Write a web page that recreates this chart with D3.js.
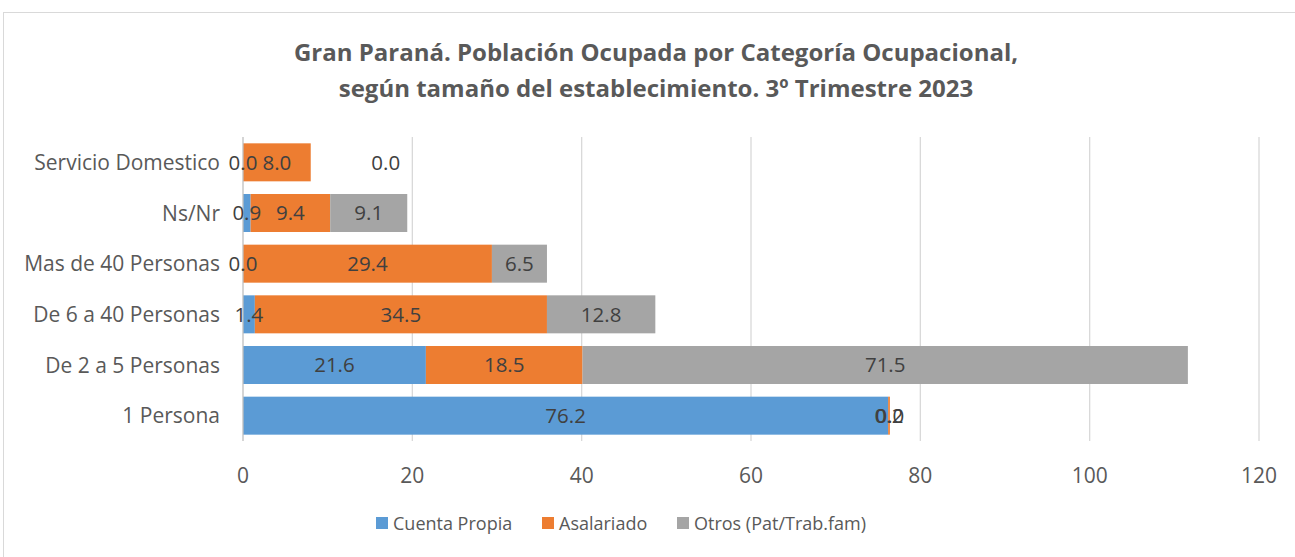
<!DOCTYPE html>
<html>
<head>
<meta charset="utf-8">
<script src="https://cdn.jsdelivr.net/npm/d3@7"></script>
<style>
  body { margin: 0; background: #fff; }
  svg { display: block; font-family: "Open Sans", sans-serif; }
</style>
</head>
<body>
<div id="chart"></div>
<script>
const categories = ["Servicio Domestico", "Ns/Nr", "Mas de 40 Personas", "De 6 a 40 Personas", "De 2 a 5 Personas", "1 Persona"];
const seriesNames = ["Cuenta Propia", "Asalariado", "Otros (Pat/Trab.fam)"];
const cuentaPropia = [0.0, 0.9, 0.0, 1.4, 21.6, 76.2];
const asalariado = [8.0, 9.4, 29.4, 34.5, 18.5, 0.2];
const otros = [0.0, 9.1, 6.5, 12.8, 71.5, 0.0];
const xTicks = [0, 20, 40, 60, 80, 100, 120];
const colors = ["#5B9BD5", "#ED7D31", "#A5A5A5"];

const width = 1295, height = 557;
const margin = { top: 137, right: 36, bottom: 116, left: 243 };

const svg = d3.select("#chart").append("svg")
    .attr("width", width).attr("height", height);

svg.append("rect").attr("x", 3.5).attr("y", 12.5)
    .attr("width", width + 10).attr("height", height)
    .attr("fill", "none").attr("stroke", "#D9D9D9");

const title = svg.append("text").attr("text-anchor", "middle")
    .attr("fill", "#595959").style("font-size", "24px").style("font-weight", "bold");
title.append("tspan").attr("x", 656).attr("y", 61).text("Gran Paraná. Población Ocupada por Categoría Ocupacional,");
title.append("tspan").attr("x", 656).attr("y", 97).text("según tamaño del establecimiento. 3º Trimestre 2023");

const x = d3.scaleLinear().domain([0, 120]).range([margin.left, width - margin.right]);
const y = d3.scaleBand().domain(categories).range([margin.top, height - margin.bottom]).paddingInner(0.25).paddingOuter(0.125);

const rows = categories.map((c, i) => ({ cat: c, v: [cuentaPropia[i], asalariado[i], otros[i]] }));
const stacked = d3.stack().keys([0, 1, 2]).value((d, k) => d.v[k])(rows);

// gridlines
svg.append("g").selectAll("line").data(xTicks.slice(1)).join("line")
    .attr("x1", d => x(d)).attr("x2", d => x(d))
    .attr("y1", margin.top).attr("y2", height - margin.bottom)
    .attr("stroke", "#D9D9D9").attr("stroke-width", 1.3);

// bars
stacked.forEach((s, k) => {
    svg.append("g").attr("fill", colors[k]).selectAll("rect").data(s).join("rect")
        .attr("x", d => x(d[0])).attr("y", d => y(d.data.cat))
        .attr("width", d => x(d[1]) - x(d[0])).attr("height", y.bandwidth());
});

// axis line
svg.append("line").attr("x1", x(0)).attr("x2", x(0))
    .attr("y1", margin.top).attr("y2", height - margin.bottom)
    .attr("stroke", "#BFBFBF").attr("stroke-width", 1.3);

// data labels
stacked.forEach((s, k) => {
    svg.append("g").selectAll("text").data(s).join("text")
        .attr("x", d => {
            let cx = (x(d[0]) + x(d[1])) / 2;
            // Excel pushes the empty last segment of the top row off to the right
            if (k === 2 && d.data.cat === "Servicio Domestico") cx += 75;
            return cx;
        })
        .attr("y", d => y(d.data.cat) + y.bandwidth() / 2)
        .attr("dy", "0.36em").attr("text-anchor", "middle")
        .attr("fill", "#404040").style("font-size", "20.5px")
        .text(d => d3.format(".1f")(d.data.v[k]));
});

// category labels
svg.append("g").selectAll("text").data(categories).join("text")
    .attr("x", 220).attr("y", d => y(d) + y.bandwidth() / 2)
    .attr("dy", "0.36em").attr("text-anchor", "end")
    .attr("fill", "#595959").style("font-size", "21px").text(d => d);

// x tick labels
svg.append("g").selectAll("text").data(xTicks).join("text")
    .attr("x", d => x(d)).attr("y", 483).attr("text-anchor", "middle")
    .attr("fill", "#595959").style("font-size", "21px").text(d => d);

// legend
const legendX = [376, 542, 677];
const legend = svg.append("g");
seriesNames.forEach((n, i) => {
    legend.append("rect").attr("x", legendX[i]).attr("y", 517).attr("width", 12).attr("height", 12).attr("fill", colors[i]);
    legend.append("text").attr("x", legendX[i] + 17).attr("y", 530)
        .attr("fill", "#595959").style("font-size", "18px").text(n);
});
</script>
</body>
</html>
